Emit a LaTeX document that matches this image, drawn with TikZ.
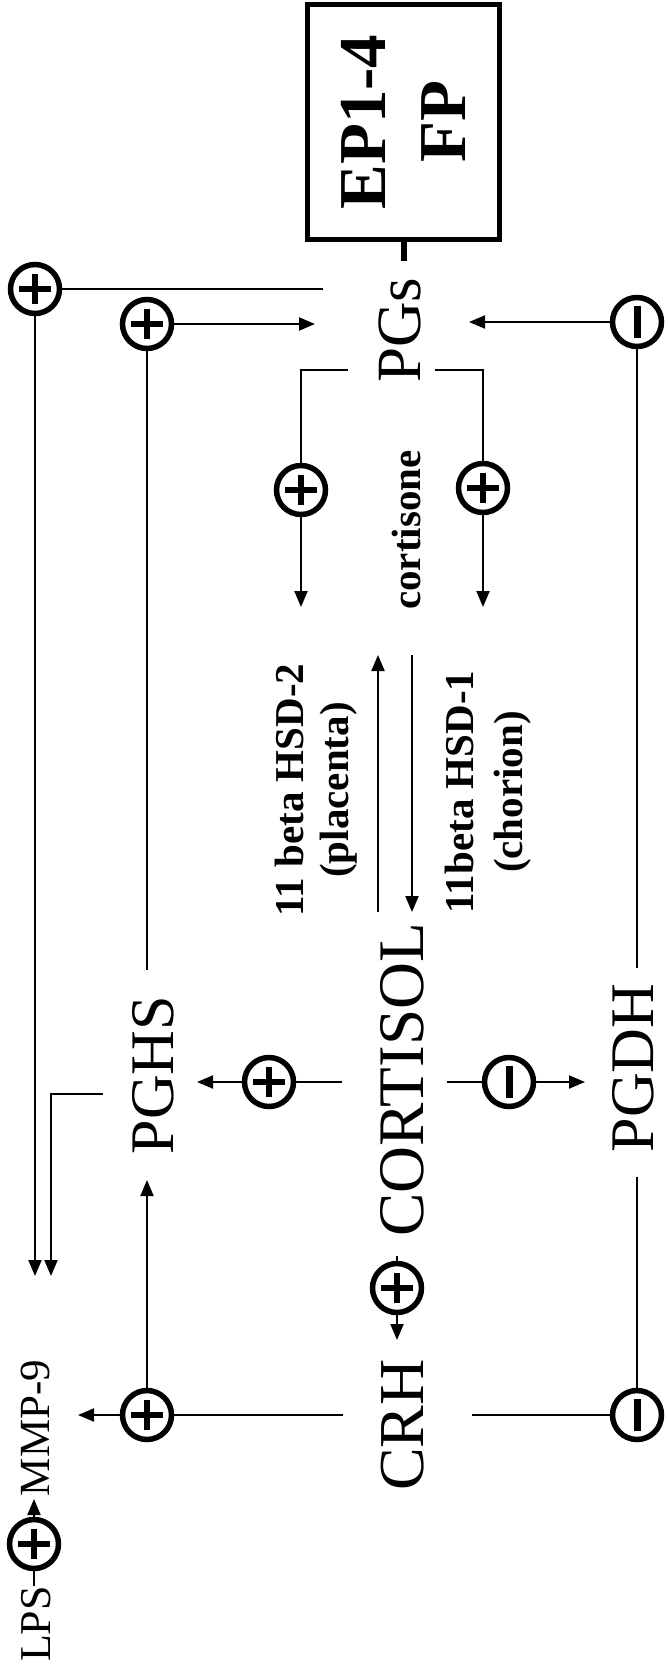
\documentclass[tikz,border=0pt]{standalone}
\usepackage{fontspec}
\setmainfont{Liberation Serif}
\usetikzlibrary{arrows.meta}
\begin{document}
\begin{tikzpicture}[x=1pt,y=-1pt,
  conn/.style={line width=2pt},
  arr/.style={line width=2pt,-{Triangle[length=16pt,width=13pt]}},
  sgn/.style={circle, draw, line width=5.5pt, minimum size=49pt, inner sep=0pt, outer sep=0pt},
  plusc/.style={sgn, path picture={
    \fill[black] ([xshift=-16pt,yshift=-3.3pt]path picture bounding box.center) rectangle ([xshift=16pt,yshift=3.3pt]path picture bounding box.center);
    \fill[black] ([xshift=-3.3pt,yshift=-15pt]path picture bounding box.center) rectangle ([xshift=3.3pt,yshift=15pt]path picture bounding box.center);}},
  minusc/.style={sgn, path picture={
    \fill[black] ([xshift=-3.5pt,yshift=-16pt]path picture bounding box.center) rectangle ([xshift=3.5pt,yshift=16pt]path picture bounding box.center);}},
  lbl/.style={rotate=90, anchor=base, inner sep=0pt, outer sep=0pt},
  big/.style={lbl, font=\fontsize{62}{62}\selectfont},
  enz/.style={lbl, font=\bfseries\fontsize{41}{41}\selectfont}
]
\useasboundingbox (0,0) rectangle (668,1667);

% receptor box
\node[draw, line width=5pt, minimum width=192pt, minimum height=235pt, inner sep=0pt, outer sep=0pt] (box) at (403.5,122) {};
\node[lbl, font=\bfseries\fontsize{67}{67}\selectfont] (ep) at (385,122) {EP1-4};
\node[lbl, font=\bfseries\fontsize{67}{67}\selectfont] (fp) at (465,122) {FP};

% main labels
\node[big, font=\fontsize{63}{63}\selectfont] (pgs) at (420,330) {PGs};
\node[enz] (cortisone) at (420,530) {cortisone};
\node[enz] (hsd2a) at (303,790) {11 beta HSD-2};
\node[enz] (hsd2b) at (348,790) {(placenta)};
\node[enz] (hsd1a) at (473,792) {11beta HSD-1};
\node[enz] (hsd1b) at (522,792) {(chorion)};
\node[big, font=\fontsize{65}{65}\selectfont] (cortisol) at (423,1080) {CORTISOL};
\node[big] (pghs) at (173,1075) {PGHS};
\node[big] (pgdh) at (653,1068) {PGDH};
\node[big, font=\fontsize{64}{64}\selectfont] (crh) at (423,1425) {CRH};
\node[lbl, font=\fontsize{43}{43}\selectfont] (mmp) at (49,1428) {MMP-9};
\node[lbl, font=\fontsize{44}{44}\selectfont] (lps) at (50,1624) {LPS};

% sign circles
\node[plusc] (c1) at (35,289) {};
\node[plusc] (c2) at (147,324) {};
\node[minusc] (c3) at (637,322) {};
\node[plusc] (c4) at (301,490) {};
\node[plusc] (c5) at (483,488) {};
\node[plusc] (c6) at (269,1082) {};
\node[minusc] (c7) at (509,1082) {};
\node[plusc] (c8) at (397,1288) {};
\node[plusc] (c9) at (147,1415) {};
\node[minusc] (c10) at (637,1415) {};
\node[plusc] (c11) at (34,1544) {};

% free ends
\coordinate (pgsA) at (323,289);
\coordinate (pgsB) at (315,324);
\coordinate (pgsC) at (469,322);
\coordinate (pgsL) at (348,370);
\coordinate (pgsR) at (435,370);
\coordinate (brL) at (301,607);
\coordinate (brR) at (483,607);
\coordinate (pghsTop) at (147,970);
\coordinate (pghsBot) at (147,1180);
\coordinate (pghsSide) at (103,1094);
\coordinate (pgdhTop) at (637,968);
\coordinate (pgdhBot) at (637,1177);
\coordinate (mmpA) at (35,1276);
\coordinate (mmpB) at (51,1276);
\coordinate (mmpC) at (78,1415);
\coordinate (mmpD) at (34,1499);
\coordinate (lpsTop) at (34,1586);
\coordinate (cortL) at (342,1082);
\coordinate (cortR) at (447,1082);
\coordinate (cortB) at (397,1256);
\coordinate (pghsR) at (197,1082);
\coordinate (pgdhL) at (585,1082);
\coordinate (crhT) at (397,1340);
\coordinate (crhL) at (343,1415);
\coordinate (crhR) at (472,1415);
\coordinate (upT) at (378,655);
\coordinate (upB) at (378,912);
\coordinate (dnT) at (412,655);
\coordinate (dnB) at (412,912);

% stub from box to PGs
\draw[line width=6pt] (box.south) -- ++(0,21);

% PGs -> + -> MMP-9
\draw[conn] (pgsA) -- (c1);
\draw[arr] (c1) -- (mmpA);
% PGHS -> + -> PGs
\draw[conn] (pghsTop) -- (c2);
\draw[arr] (c2) -- (pgsB);
% PGDH -> - -> PGs
\draw[conn] (pgdhTop) -- (c3);
\draw[arr] (c3) -- (pgsC);
% PGs -> + -> HSD enzymes
\draw[conn] (pgsL) -| (c4);
\draw[arr] (c4) -- (brL);
\draw[conn] (pgsR) -| (c5);
\draw[arr] (c5) -- (brR);
% cortisol <-> cortisone
\draw[arr] (upB) -- (upT);
\draw[arr] (dnT) -- (dnB);
% CORTISOL -> PGHS, PGDH, CRH
\draw[conn] (cortL) -- (c6);
\draw[arr] (c6) -- (pghsR);
\draw[conn] (cortR) -- (c7);
\draw[arr] (c7) -- (pgdhL);
\draw[conn] (cortB) -- (c8);
\draw[arr] (c8) -- (crhT);
% CRH -> MMP-9, PGHS ; CRH -> PGDH
\draw[conn] (crhL) -- (c9);
\draw[arr] (c9) -- (mmpC);
\draw[arr] (c9) -- (pghsBot);
\draw[conn] (crhR) -- (c10);
\draw[conn] (c10) -- (pgdhBot);
% PGHS -> MMP-9
\draw[arr] (pghsSide) -| (mmpB);
% LPS -> + -> MMP-9
\draw[conn] (lpsTop) -- (c11);
\draw[arr] (c11) -- (mmpD);
\end{tikzpicture}
\end{document}
